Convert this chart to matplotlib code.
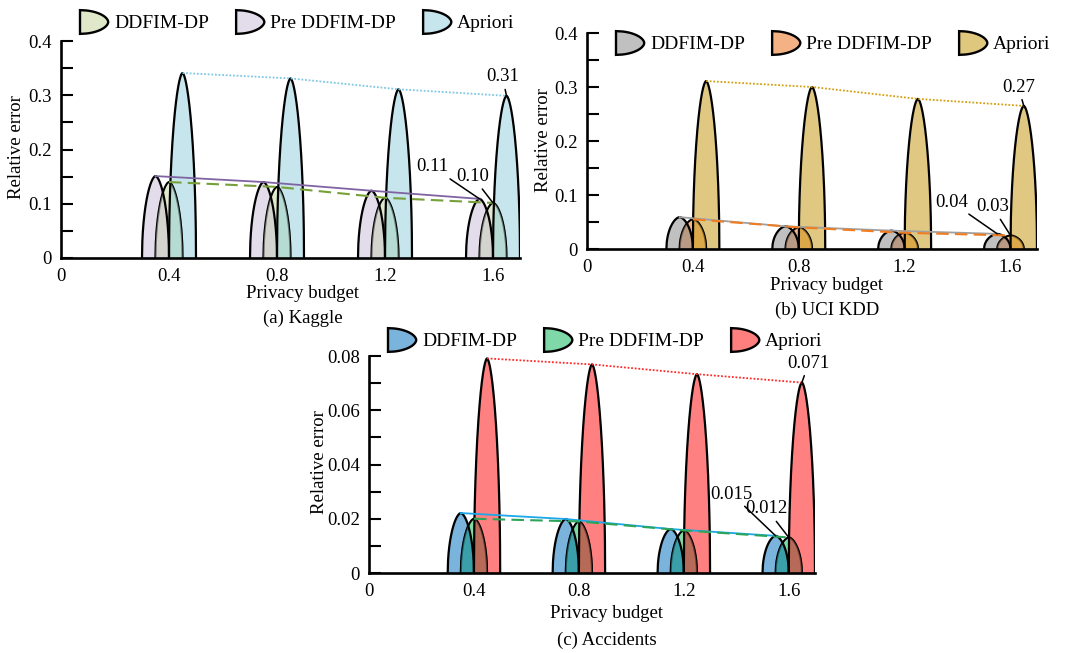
import numpy as np
import matplotlib.pyplot as plt
from matplotlib.patches import Polygon, Patch
from matplotlib.legend_handler import HandlerBase

plt.rcParams['font.family'] = ['Liberation Serif', 'DejaVu Serif']
plt.rcParams['font.size'] = 13.5

# ---- data ----
budgets = [0.4, 0.8, 1.2, 1.6]
xtick_labels = ['0', '0.4', '0.8', '1.2', '1.6']

kaggle_pre = [0.151, 0.140, 0.124, 0.109]
kaggle_ddfim = [0.140, 0.131, 0.111, 0.1015]
kaggle_apriori = [0.341, 0.331, 0.311, 0.299]
kaggle_yticklabels = ['0', '0.1', '0.2', '0.3', '0.4']
kaggle_notes = ['0.11', '0.10', '0.31']

uci_ddfim = [0.059, 0.042, 0.034, 0.028]
uci_pre = [0.055, 0.040, 0.030, 0.025]
uci_apriori = [0.311, 0.300, 0.278, 0.265]
uci_yticklabels = ['0', '0.1', '0.2', '0.3', '0.4']
uci_notes = ['0.04', '0.03', '0.27']

acc_ddfim = [0.0221, 0.0199, 0.0162, 0.0137]
acc_pre = [0.0200, 0.0190, 0.0157, 0.0131]
acc_apriori = [0.0791, 0.0769, 0.0733, 0.0702]
acc_yticklabels = ['0', '0.02', '0.04', '0.06', '0.08']
acc_notes = ['0.015', '0.012', '0.071']

legend_labels = ['DDFIM-DP', 'Pre DDFIM-DP', 'Apriori']

W, H = 1067, 653
HALF = 0.05


def px(x, y):
    return x / W, 1 - y / H


def peak_outline(center, height, n=160):
    u = np.linspace(-1, 1, n)
    y = height * np.sqrt(np.clip(1 - np.abs(u) ** 1.7, 0, None))
    return center + u * HALF, y


class HandlerPeak(HandlerBase):
    """Legend key drawn as a peak lying on its side (a 'D')."""

    def create_artists(self, legend, orig_handle, xdescent, ydescent,
                       width, height, fontsize, trans):
        v = np.linspace(-1, 1, 80)
        x = -xdescent + width * np.sqrt(np.clip(1 - np.abs(v) ** 1.8, 0, None))
        y = -ydescent + height / 2 + v * height / 2
        poly = Polygon(np.column_stack([x, y]), closed=True,
                       facecolor=orig_handle.get_facecolor(),
                       edgecolor='black', lw=1.7, transform=trans)
        return [poly]


def draw_panel(ax, left, mid, apr, c_left, c_mid, c_apr, ov_left, ov_apr,
               line_left, line_mid, line_apr, ymax, ymajor, yminor, ylabels):
    for b, lv, mv, av in zip(budgets, left, mid, apr):
        x1, y1 = peak_outline(b - HALF, lv)
        x2, y2 = peak_outline(b, mv)
        x3, y3 = peak_outline(b + HALF, av)
        p1 = Polygon(np.column_stack([x1, y1]), closed=True, fc=c_left, ec='none', zorder=2)
        p3 = Polygon(np.column_stack([x3, y3]), closed=True, fc=c_apr, ec='none', zorder=2)
        p2 = Polygon(np.column_stack([x2, y2]), closed=True, fc=c_mid, ec='none', zorder=3)
        for p in (p1, p3, p2):
            ax.add_patch(p)
        ax.plot(x2, y2, color='black', lw=1.5, zorder=3.2, solid_capstyle='butt')
        # overlapping parts get their own blended colour
        for clip, oc in ((p1, ov_left), (p3, ov_apr)):
            o = Polygon(np.column_stack([x2, y2]), closed=True, fc=oc, ec='none', zorder=3.4)
            ax.add_patch(o)
            o.set_clip_path(clip)
            ln, = ax.plot(x2, y2, color='black', alpha=0.45, lw=1.5, zorder=3.5)
            ln.set_clip_path(clip)
        ax.plot(x1, y1, color='black', lw=1.6, zorder=4)
        ax.plot(x3, y3, color='black', lw=1.6, zorder=4)

    bl = np.array(budgets)
    ax.plot(bl - HALF, left, color=line_left, lw=1.3, zorder=6)
    ax.plot(bl, mid, color=line_mid, lw=1.5, ls=(0, (6, 3)), zorder=6)
    ax.plot(bl + HALF, apr, color=line_apr, lw=1.3, ls=(0, (1, 1)), zorder=6)

    ax.set_xlim(0, 1.7)
    ax.set_ylim(0, ymax)
    ax.set_xticks([0] + budgets)
    ax.set_xticklabels(xtick_labels)
    ax.set_yticks(np.arange(0, ymax + ymajor / 2, ymajor))
    ax.set_yticklabels(ylabels)
    ax.set_yticks(np.arange(0, ymax + yminor / 2, yminor), minor=True)
    ax.tick_params(axis='x', length=0, pad=7)
    ax.tick_params(axis='y', which='both', direction='in', length=8.5, width=1.5, pad=6.5)
    ax.spines[['top', 'right']].set_visible(False)
    ax.spines[['left', 'bottom']].set_linewidth(1.9)
    ax.spines['bottom'].set_zorder(7)
    ax.spines['left'].set_zorder(7)
    ax.patch.set_alpha(0)


def annotate_panel(ax, left, mid, apr, notes, spots):
    tops = [(budgets[-1] - HALF, left[-1]), (budgets[-1], mid[-1]), (budgets[-1] + HALF, apr[-1])]
    for text, xy, xytext in zip(notes, tops, spots):
        ax.annotate(text, xy=xy, xytext=xytext, ha='center', va='center', zorder=8,
                    arrowprops=dict(arrowstyle='-', color='black', lw=1.1,
                                    shrinkA=1, shrinkB=0))


def add_legend(fig, colors, anchor):
    handles = [Patch(facecolor=c, edgecolor='black') for c in colors]
    fig.legend(handles, legend_labels, loc='center left', bbox_to_anchor=anchor, ncol=3,
               frameon=False, borderpad=0, borderaxespad=0, handlelength=1.45,
               handleheight=1.5, handletextpad=0.3, columnspacing=1.4,
               fontsize=14, handler_map={Patch: HandlerPeak()})


fig = plt.figure(figsize=(10.67, 6.53), dpi=100)

# (a) Kaggle
ax_a = fig.add_axes([61 / W, 1 - 258 / H, 459 / W, 217 / H])
draw_panel(ax_a, kaggle_pre, kaggle_ddfim, kaggle_apriori,
           '#e3dcea', '#e0e9cb', '#c6e5ed', '#d4d4cf', '#b5dbd3',
           '#8064a2', '#77a03a', '#7ec8e3', 0.4, 0.1, 0.05, kaggle_yticklabels)
annotate_panel(ax_a, kaggle_pre, kaggle_ddfim, kaggle_apriori, kaggle_notes,
               [(1.375, 0.168), (1.525, 0.150), (1.635, 0.334)])
add_legend(fig, ['#dfe8c9', '#e3dcea', '#c6e5ed'], px(80, 22))
fig.text(*px(17, 147), 'Relative error', rotation=90, ha='center', va='center')
fig.text(*px(303, 293), 'Privacy budget', ha='center', va='center')
fig.text(*px(303, 318), '(a) Kaggle', ha='center', va='center')

# (b) UCI KDD
ax_b = fig.add_axes([587 / W, 1 - 249 / H, 450 / W, 216 / H])
draw_panel(ax_b, uci_ddfim, uci_pre, uci_apriori,
           '#c0c0c0', '#f4b78c', '#e0c882', '#b89a85', '#dba84a',
           '#a0a0a0', '#f07d22', '#d4a010', 0.4, 0.1, 0.05, uci_yticklabels)
annotate_panel(ax_b, uci_ddfim, uci_pre, uci_apriori, uci_notes,
               [(1.377, 0.087), (1.532, 0.078), (1.63, 0.30)])
add_legend(fig, ['#c0c0c0', '#f4b183', '#dfc87e'], px(616, 43))
fig.text(*px(543, 140), 'Relative error', rotation=90, ha='center', va='center')
fig.text(*px(827, 285), 'Privacy budget', ha='center', va='center')
fig.text(*px(827, 310), '(b) UCI KDD', ha='center', va='center')

# (c) Accidents
ax_c = fig.add_axes([369 / W, 1 - 573 / H, 446 / W, 217 / H])
draw_panel(ax_c, acc_ddfim, acc_pre, acc_apriori,
           '#7ab3dc', '#80dba6', '#ff8080', '#3a9fa8', '#b86a58',
           '#1aa8e8', '#2ca55a', '#ff2a2a', 0.08, 0.02, 0.01, acc_yticklabels)
annotate_panel(ax_c, acc_ddfim, acc_pre, acc_apriori, acc_notes,
               [(1.383, 0.0291), (1.516, 0.0236), (1.676, 0.0774)])
add_legend(fig, ['#7ab3dc', '#7fd8a7', '#ff7f7f'], px(388, 340))
fig.text(*px(320, 462), 'Relative error', rotation=90, ha='center', va='center')
fig.text(*px(607, 613), 'Privacy budget', ha='center', va='center')
fig.text(*px(607, 640), '(c) Accidents', ha='center', va='center')

fig.savefig('out.png', dpi=100)
